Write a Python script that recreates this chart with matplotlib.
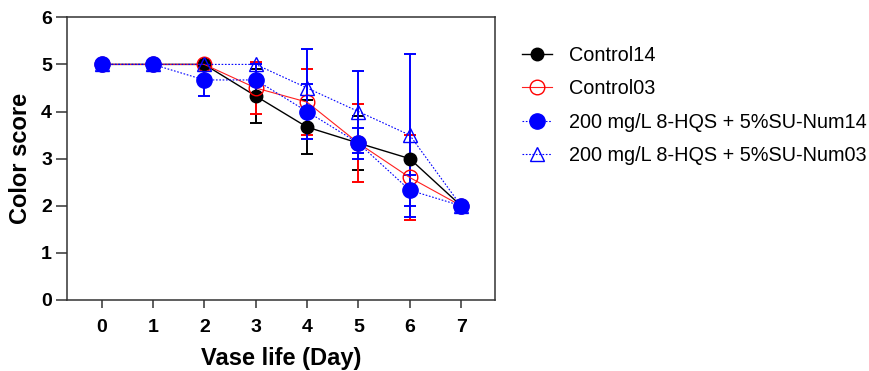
import matplotlib
matplotlib.use("Agg")
import matplotlib.pyplot as plt

plt.rcParams['font.family'] = ['Liberation Sans', 'DejaVu Sans']

# data: mean color score and error per day
days = [0, 1, 2, 3, 4, 5, 6, 7]
control14 = [5, 5, 5, 4.33, 3.67, 3.33, 3.0, 2.0]
control14_err = [0, 0, 0, 0.58, 0.58, 0.58, 0, 0]
control03 = [5, 5, 5, 4.5, 4.2, 3.33, 2.6, 2.0]
control03_err = [0, 0, 0, 0.56, 0.7, 0.82, 0.9, 0]
hqs14 = [5, 5, 4.67, 4.67, 4.0, 3.33, 2.33, 2.0]
hqs14_err = [0, 0, 0.33, 0.33, 0.58, 0.33, 0.33, 0]
hqs03 = [5, 5, 5, 5, 4.5, 4.0, 3.5, 2.0]
hqs03_err = [0, 0, 0, 0, 0.82, 0.87, 1.73, 0]

labels = ['Control14', 'Control03',
          '200 mg/L 8-HQS + 5%SU-Num14', '200 mg/L 8-HQS + 5%SU-Num03']

fig = plt.figure(figsize=(8.69, 3.71), dpi=100)
ax = fig.add_axes([0.0775, 0.1914, 0.4925, 0.762])

series = [
    (control14, control14_err, dict(color='black', ls='-', lw=1.0, marker='o', ms=9,
                                    mfc='black', mec='black')),
    (control03, control03_err, dict(color='#ff2020', ls='-', lw=0.8, marker='o', ms=10.5,
                                    mfc='none', mec='red', mew=1.0)),
    (hqs14, hqs14_err, dict(color='blue', ls=(0, (1.5, 1.5)), lw=0.8, marker='o', ms=11,
                            mfc='blue', mec='blue')),
    (hqs03, hqs03_err, dict(color='blue', ls=(0, (1.5, 1.5)), lw=0.8, marker='^', ms=10,
                            mfc='none', mec='blue', mew=1.0)),
]

handles = []
for (vals, errs, st), lab in zip(series, labels):
    ecol = st['mec']
    ax.errorbar(days, vals, yerr=errs, fmt='none', ecolor=ecol, elinewidth=1.4,
                capsize=4.3, capthick=1.4, zorder=2)
    ln, = ax.plot(days, vals, label=lab, zorder=3, **st)
    handles.append(ln)

ax.set_xlim(-0.667, 7.667)
ax.set_ylim(0, 6)
ax.set_xticks(days)
ax.set_yticks(range(0, 7))
for sp in ax.spines.values():
    sp.set_linewidth(1.1)
    sp.set_color('#333333')
ax.tick_params(axis='y', direction='out', length=8, width=1.1, color='#333333',
               labelsize=14, pad=3)
ax.tick_params(axis='x', direction='out', length=6, width=1.1, color='#333333',
               labelsize=14, pad=7.5)
for t in ax.get_xticklabels() + ax.get_yticklabels():
    t.set_fontweight('bold')

ax.set_xlabel('Vase life (Day)', fontsize=17, fontweight='bold', labelpad=8)
ax.set_ylabel('Color score', fontsize=17, fontweight='bold', labelpad=6.5)

fig.legend(handles=handles, loc='upper left', bbox_to_anchor=(0.592, 0.898),
           frameon=False, fontsize=14.3, handlelength=1.5, handletextpad=0.85,
           labelspacing=0.73, borderaxespad=0)

fig.savefig('out.png', dpi=100)
